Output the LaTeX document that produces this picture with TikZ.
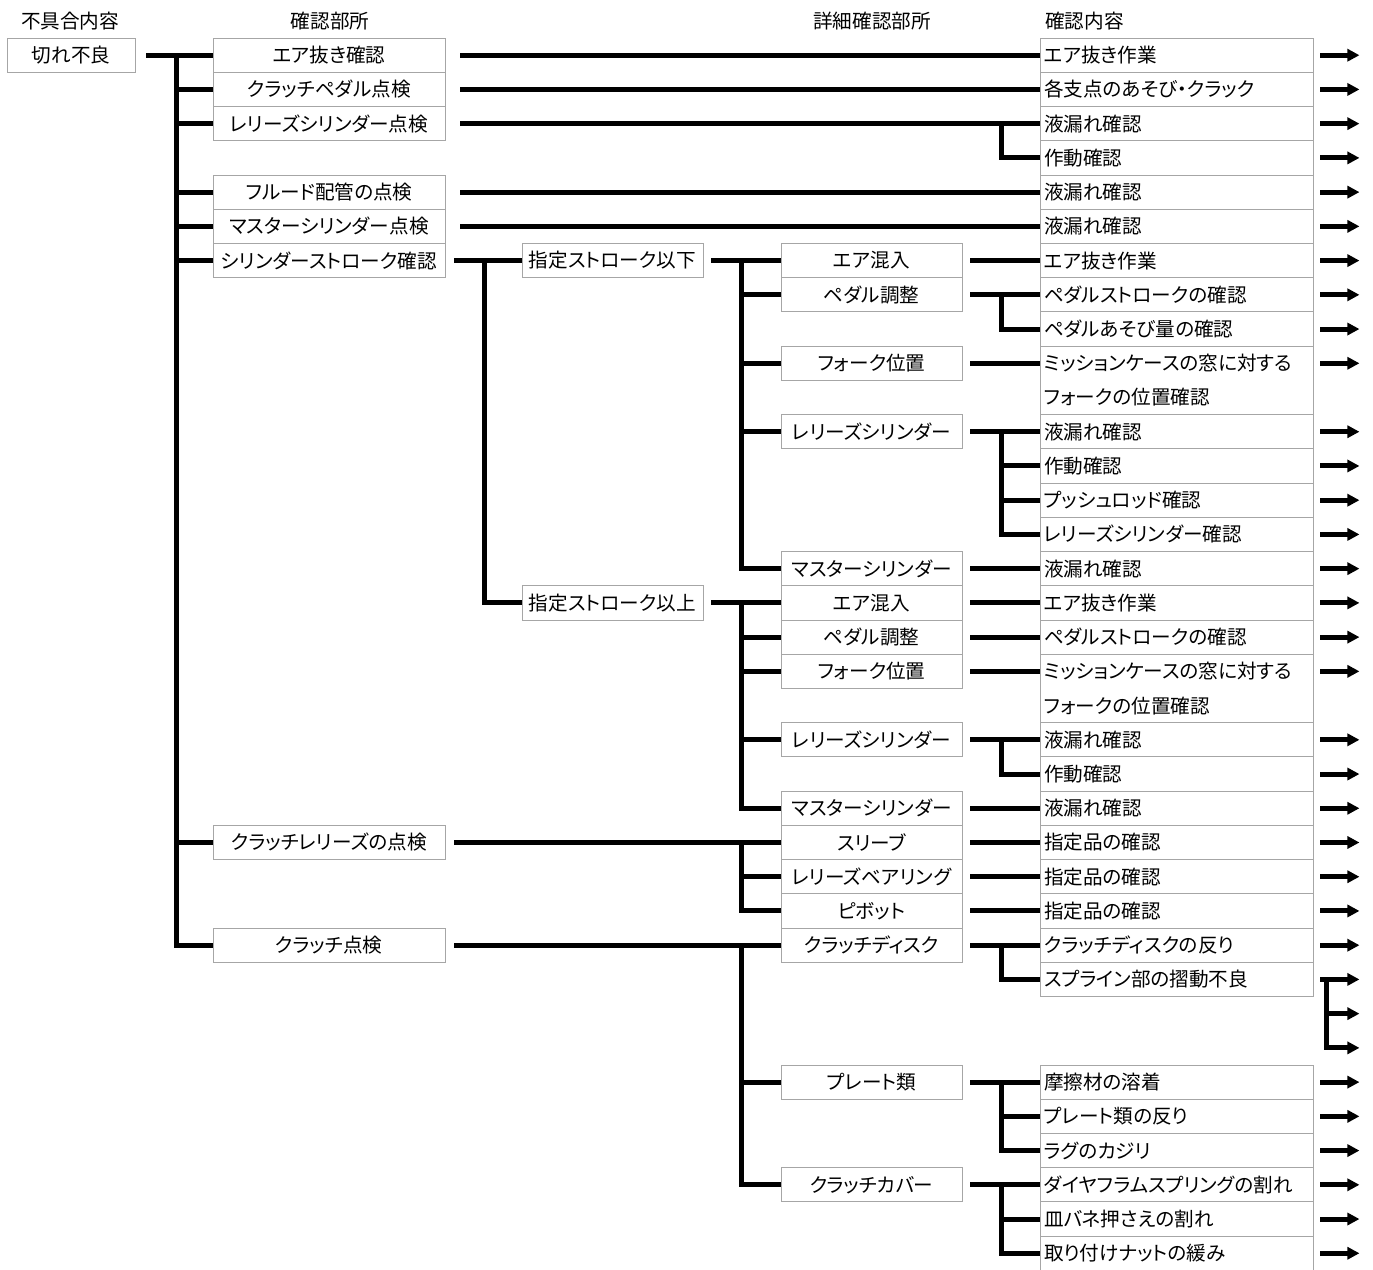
\documentclass[tikz,border=0pt]{standalone}
\usepackage{fontspec}
\setmainfont{Noto Sans CJK JP}[RawFeature=+palt]
\usetikzlibrary{arrows.meta}
\definecolor{boxgray}{HTML}{A6A6A6}
\newcommand\jfs{\fontsize{19.6}{23}\selectfont}
\tikzset{
 box/.style={draw=boxgray, line width=0.9pt, minimum height=34.23pt, inner sep=0pt, anchor=center, font=\jfs},
 bxa/.style={box, minimum width=128pt},
 bxb/.style={box, minimum width=232pt},
 bxc/.style={box, minimum width=181pt},
 bxd/.style={box, minimum width=181pt},
 bxe/.style={box, minimum width=273pt, text width=265pt, inner xsep=4pt, align=left},
 bxee/.style={bxe, minimum height=68.46pt, font=\fontsize{19.6}{34.23}\selectfont},
 conn/.style={line width=5pt, line join=miter},
 arr/.style={line width=5pt, -{Triangle[length=12pt,width=12pt]}},
 hdr/.style={inner sep=0pt, font=\jfs},
}
\begin{document}
\begin{tikzpicture}[x=1pt,y=-34.23pt]
\useasboundingbox (0,-0.6126) rectangle (1373,36.461);
% headers
\node[hdr] (h1) at (70,0) {不具合内容};
\node[hdr] (h2) at (330,0) {確認部所};
\node[hdr] (h3) at (872,0) {詳細確認部所};
\node[hdr,anchor=west] (h4) at (1045,0) {確認内容};
% column 1
\node[bxa] (a) at (71,1) {切れ不良};
% column 2
\node[bxb] (b1) at (329,1) {エア抜き確認};
\node[bxb] (b2) at (329,2) {クラッチペダル点検};
\node[bxb] (b3) at (329,3) {レリーズシリンダー点検};
\node[bxb] (b5) at (329,5) {フルード配管の点検};
\node[bxb] (b6) at (329,6) {マスターシリンダー点検};
\node[bxb] (b7) at (329,7) {シリンダーストローク確認};
\node[bxb] (b24) at (329,24) {クラッチレリーズの点検};
\node[bxb] (b27) at (329,27) {クラッチ点検};
% column 3
\node[bxc] (c7) at (612.5,7) {指定ストローク以下};
\node[bxc] (c17) at (612.5,17) {指定ストローク以上};
% column 4
\node[bxd] (d7) at (871.5,7) {エア混入};
\node[bxd] (d8) at (871.5,8) {ペダル調整};
\node[bxd] (d10) at (871.5,10) {フォーク位置};
\node[bxd] (d12) at (871.5,12) {レリーズシリンダー};
\node[bxd] (d16) at (871.5,16) {マスターシリンダー};
\node[bxd] (d17) at (871.5,17) {エア混入};
\node[bxd] (d18) at (871.5,18) {ペダル調整};
\node[bxd] (d19) at (871.5,19) {フォーク位置};
\node[bxd] (d21) at (871.5,21) {レリーズシリンダー};
\node[bxd] (d23) at (871.5,23) {マスターシリンダー};
\node[bxd] (d24) at (871.5,24) {スリーブ};
\node[bxd] (d25) at (871.5,25) {レリーズベアリング};
\node[bxd] (d26) at (871.5,26) {ピボット};
\node[bxd] (d27) at (871.5,27) {クラッチディスク};
\node[bxd] (d31) at (871.5,31) {プレート類};
\node[bxd] (d34) at (871.5,34) {クラッチカバー};
% column 5
\node[bxe] (e1) at (1176.5,1) {エア抜き作業};
\node[bxe] (e2) at (1176.5,2) {各支点のあそび・クラック};
\node[bxe] (e3) at (1176.5,3) {液漏れ確認};
\node[bxe] (e4) at (1176.5,4) {作動確認};
\node[bxe] (e5) at (1176.5,5) {液漏れ確認};
\node[bxe] (e6) at (1176.5,6) {液漏れ確認};
\node[bxe] (e7) at (1176.5,7) {エア抜き作業};
\node[bxe] (e8) at (1176.5,8) {ペダルストロークの確認};
\node[bxe] (e9) at (1176.5,9) {ペダルあそび量の確認};
\node[bxee] (e10) at (1176.5,10.5) {ミッションケースの窓に対する\\フォークの位置確認};
\node[bxe] (e12) at (1176.5,12) {液漏れ確認};
\node[bxe] (e13) at (1176.5,13) {作動確認};
\node[bxe] (e14) at (1176.5,14) {プッシュロッド確認};
\node[bxe] (e15) at (1176.5,15) {レリーズシリンダー確認};
\node[bxe] (e16) at (1176.5,16) {液漏れ確認};
\node[bxe] (e17) at (1176.5,17) {エア抜き作業};
\node[bxe] (e18) at (1176.5,18) {ペダルストロークの確認};
\node[bxee] (e19) at (1176.5,19.5) {ミッションケースの窓に対する\\フォークの位置確認};
\node[bxe] (e21) at (1176.5,21) {液漏れ確認};
\node[bxe] (e22) at (1176.5,22) {作動確認};
\node[bxe] (e23) at (1176.5,23) {液漏れ確認};
\node[bxe] (e24) at (1176.5,24) {指定品の確認};
\node[bxe] (e25) at (1176.5,25) {指定品の確認};
\node[bxe] (e26) at (1176.5,26) {指定品の確認};
\node[bxe] (e27) at (1176.5,27) {クラッチディスクの反り};
\node[bxe] (e28) at (1176.5,28) {スプライン部の摺動不良};
\node[bxe] (e31) at (1176.5,31) {摩擦材の溶着};
\node[bxe] (e32) at (1176.5,32) {プレート類の反り};
\node[bxe] (e33) at (1176.5,33) {ラグのカジリ};
\node[bxe] (e34) at (1176.5,34) {ダイヤフラムスプリングの割れ};
\node[bxe] (e35) at (1176.5,35) {皿バネ押さえの割れ};
\node[bxe] (e36) at (1176.5,36) {取り付けナットの緩み};
% trunk coordinates
\coordinate (t1) at (176,1);
\coordinate (t2) at (484,7);
\coordinate (t3) at (741,7);
\coordinate (t4) at (741,17);
\coordinate (t5) at (741,24);
\coordinate (t6) at (741,27);
\coordinate (t7) at (1001,8);
\coordinate (t8) at (1001,12);
\coordinate (t9) at (1001,21);
\coordinate (t10) at (1001,27);
\coordinate (t11) at (1001,31);
\coordinate (t12) at (1001,34);
\coordinate (t0) at (1001,3);
\coordinate (e10a) at (e10.east |- d10);
\coordinate (e19a) at (e19.east |- d19);
\coordinate (e10w) at (e10.west |- d10);
\coordinate (e19w) at (e19.west |- d19);
\coordinate (t13) at ([xshift=13pt]e28.east);
% column 1 -> 2
\draw[conn] ([xshift=11pt]a.east) -- (b1.west);
\foreach \n in {b2,b3,b5,b6,b7,b24,b27} \draw[conn] (t1) |- (\n.west);
% column 2 -> 5
\foreach \s/\t in {b1/e1,b2/e2,b3/e3,b5/e5,b6/e6} \draw[conn] ([xshift=15pt]\s.east) -- (\t.west);
\draw[conn] (t0) |- (e4.west);
% column 2 -> 3
\draw[conn] ([xshift=9pt]b7.east) -- (c7.west);
\draw[conn] (t2) |- (c17.west);
% column 3 -> 4
\draw[conn] ([xshift=8pt]c7.east) -- (d7.west);
\foreach \n in {d8,d10,d12,d16} \draw[conn] (t3) |- (\n.west);
\draw[conn] ([xshift=8pt]c17.east) -- (d17.west);
\foreach \n in {d18,d19,d21,d23} \draw[conn] (t4) |- (\n.west);
% column 2 -> 4
\draw[conn] ([xshift=9pt]b24.east) -- (d24.west);
\foreach \n in {d25,d26} \draw[conn] (t5) |- (\n.west);
\draw[conn] ([xshift=9pt]b27.east) -- (d27.west);
\foreach \n in {d31,d34} \draw[conn] (t6) |- (\n.west);
% column 4 -> 5
\foreach \s/\t in {d7/e7,d8/e8,d12/e12,d16/e16,d17/e17,d18/e18,d21/e21,d23/e23,d24/e24,d25/e25,d26/e26,d27/e27,d31/e31,d34/e34} \draw[conn] ([xshift=8pt]\s.east) -- (\t.west);
\draw[conn] ([xshift=8pt]d10.east) -- (e10w);
\draw[conn] ([xshift=8pt]d19.east) -- (e19w);
\draw[conn] (t7) |- (e9.west);
\foreach \n in {e13,e14,e15} \draw[conn] (t8) |- (\n.west);
\draw[conn] (t9) |- (e22.west);
\draw[conn] (t10) |- (e28.west);
\foreach \n in {e32,e33} \draw[conn] (t11) |- (\n.west);
\foreach \n in {e35,e36} \draw[conn] (t12) |- (\n.west);
% result arrows
\foreach \n in {e1,e2,e3,e4,e5,e6,e7,e8,e9,e10a,e12,e13,e14,e15,e16,e17,e18,e19a,e21,e22,e23,e24,e25,e26,e27,e28,e31,e32,e33,e34,e35,e36}
  \draw[arr] ([xshift=7pt]\n.east) -- ++(39,0);
\draw[arr] (t13) |- ++(33,1);
\draw[arr] (t13) |- ++(33,2);
\end{tikzpicture}
\end{document}
